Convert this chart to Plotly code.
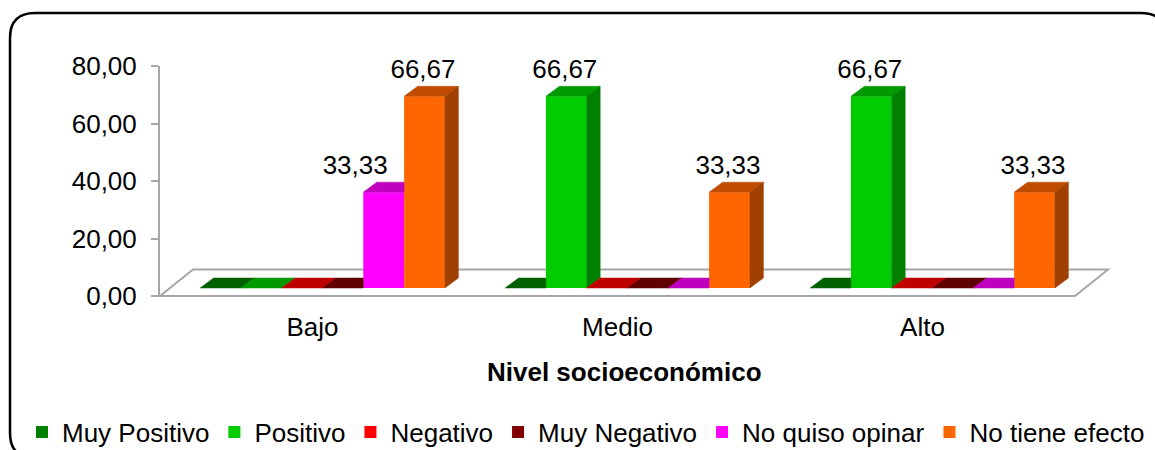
import plotly.graph_objects as go

# ---------------- data ----------------
categories = ["Bajo", "Medio", "Alto"]
series_names = ["Muy Positivo", "Positivo", "Negativo", "Muy Negativo",
                "No quiso opinar", "No tiene efecto"]
muy_positivo = [0.00, 0.00, 0.00]
positivo = [0.00, 66.67, 66.67]
negativo = [0.00, 0.00, 0.00]
muy_negativo = [0.00, 0.00, 0.00]
no_quiso_opinar = [33.33, 0.00, 0.00]
no_tiene_efecto = [66.67, 33.33, 33.33]
y_tick_values = [0, 20, 40, 60, 80]
x_axis_title = "Nivel socioeconómico"

series_values = [muy_positivo, positivo, negativo, muy_negativo,
                 no_quiso_opinar, no_tiene_efecto]

# ---------------- style ----------------
front_colors = ["#008000", "#00CC00", "#FF0000", "#800000", "#FF00FF", "#FF6600"]
FONT = "Liberation Sans, Arial, sans-serif"
FS = 26
GRAY = "#A6A6A6"


def shade(hexc, k):
    r, g, b = int(hexc[1:3], 16), int(hexc[3:5], 16), int(hexc[5:7], 16)
    return f"rgb({int(r * k)},{int(g * k)},{int(b * k)})"


W, H = 1155, 450
L, R, T, B = 160, 0, 66, 153
plot_w = W - L - R
plot_h = H - T - B
Y_MAX = 80
ppy = 230 / Y_MAX          # pixels per value unit
ppx = 305                  # pixels per category
x_range = [-0.5, -0.5 + plot_w / ppx]
y_range = [Y_MAX - plot_h / ppy, Y_MAX]

bar_w = 40.8 / ppx
grp_shift = 10 / ppx
b0 = 8 / ppy
ddx, ddy = 13.5 / ppx, 10 / ppy
fdx, fdy = 33 / ppx, 26.5 / ppy
label_lift = 2 / ppy
n_s = len(series_names)
label_nudge_px = {(0, 4): -27}


def xp(px):
    return (px - L) / plot_w


def yp(py):
    return (H - B - py) / plot_h


def clip(poly, inside, inter):
    out = []
    for k in range(len(poly)):
        cur, prev = poly[k], poly[k - 1]
        if inside(cur):
            if not inside(prev):
                out.append(inter(prev, cur))
            out.append(cur)
        elif inside(prev):
            out.append(inter(prev, cur))
    return out


fig = go.Figure()

# front faces (real bars)
for j, name in enumerate(series_names):
    off = -n_s / 2 * bar_w + j * bar_w + grp_shift
    fig.add_trace(go.Bar(
        x=list(range(len(categories))), y=series_values[j], base=b0,
        width=bar_w, offset=off, name=name,
        marker=dict(color=front_colors[j], line=dict(width=0)),
        hoverinfo="skip"))

# top and side faces
for j, name in enumerate(series_names):
    off = -n_s / 2 * bar_w + j * bar_w + grp_shift
    tx, ty, sx, sy = [], [], [], []
    for i in range(len(categories)):
        h = series_values[j][i]
        xl = i + off
        xr = xl + bar_w
        hn = series_values[j + 1][i] if j + 1 < n_s else None
        top = [(xl, b0 + h), (xr, b0 + h), (xr + ddx, b0 + h + ddy), (xl + ddx, b0 + h + ddy)]
        pieces = [top]
        if hn is not None and hn > h:
            yc = b0 + hn
            p1 = clip(top, lambda p: p[0] <= xr + 1e-12,
                      lambda a, b: (xr, a[1] + (b[1] - a[1]) * (xr - a[0]) / (b[0] - a[0])))
            p2 = clip(top, lambda p: p[1] >= yc - 1e-12,
                      lambda a, b: (a[0] + (b[0] - a[0]) * (yc - a[1]) / (b[1] - a[1]), yc))
            pieces = [p for p in (p1, p2) if len(p) >= 3]
        for p in pieces:
            tx += [q[0] for q in p] + [p[0][0], None]
            ty += [q[1] for q in p] + [p[0][1], None]
        hs = max(hn, 0) if hn is not None else 0
        if h > hs:
            side = [(xr, b0 + hs), (xr + ddx, b0 + hs + ddy), (xr + ddx, b0 + h + ddy), (xr, b0 + h)]
            sx += [q[0] for q in side] + [side[0][0], None]
            sy += [q[1] for q in side] + [side[0][1], None]
    tc = shade(front_colors[j], 0.75)
    fig.add_trace(go.Scatter(x=tx, y=ty, mode="lines", fill="toself", fillcolor=tc,
                             line=dict(color=tc, width=0.5), showlegend=False, hoverinfo="skip"))
    if sx:
        sc = shade(front_colors[j], 0.63)
        fig.add_trace(go.Scatter(x=sx, y=sy, mode="lines", fill="toself", fillcolor=sc,
                                 line=dict(color=sc, width=0.5), showlegend=False, hoverinfo="skip"))

# value labels
lx, ly, lt = [], [], []
for j in range(n_s):
    off = -n_s / 2 * bar_w + j * bar_w + grp_shift
    for i in range(len(categories)):
        v = series_values[j][i]
        if v <= 0:
            continue
        nudge = label_nudge_px.get((i, j), 0)
        lx.append(i + off + bar_w / 2 + (nudge - 1.5) / ppx)
        ly.append(b0 + v + ddy + label_lift)
        lt.append(f"{v:.2f}".replace(".", ","))
fig.add_trace(go.Scatter(x=lx, y=ly, text=lt, mode="text", textposition="top center",
                         textfont=dict(family=FONT, size=FS, color="black"),
                         cliponaxis=False, showlegend=False, hoverinfo="skip"))

# floor and frame
floor_path = (f"M {-0.5},{0} L {len(categories) - 0.5},{0} "
              f"L {len(categories) - 0.5 + fdx},{fdy} L {-0.5 + fdx},{fdy} Z")
r = 25
bx0, bx1, by0, by1 = 10, 1166, 13, 458
frame = (f"M {xp(bx0 + r)},{yp(by0)} L {xp(bx1 - r)},{yp(by0)} "
         f"Q {xp(bx1)},{yp(by0)} {xp(bx1)},{yp(by0 + r)} L {xp(bx1)},{yp(by1 - r)} "
         f"Q {xp(bx1)},{yp(by1)} {xp(bx1 - r)},{yp(by1)} L {xp(bx0 + r)},{yp(by1)} "
         f"Q {xp(bx0)},{yp(by1)} {xp(bx0)},{yp(by1 - r)} L {xp(bx0)},{yp(by0 + r)} "
         f"Q {xp(bx0)},{yp(by0)} {xp(bx0 + r)},{yp(by0)} Z")

fig.update_layout(
    width=W, height=H,
    margin=dict(l=L, r=R, t=T, b=B, pad=0, autoexpand=False),
    paper_bgcolor="white", plot_bgcolor="white",
    separators=",.",
    font=dict(family=FONT, size=FS, color="black"),
    barmode="overlay",
    showlegend=True,
    legend=dict(orientation="h", x=xp(22), xanchor="left", y=yp(432), yanchor="middle",
                font=dict(family=FONT, size=FS, color="black"), itemwidth=30,
                traceorder="normal", bgcolor="rgba(0,0,0,0)"),
    xaxis=dict(range=x_range, tickvals=list(range(len(categories))), ticktext=categories,
               showline=False, showgrid=False, zeroline=False, ticks="",
               tickfont=dict(family=FONT, size=FS, color="black"), ticklabelstandoff=12,
               fixedrange=True),
    yaxis=dict(range=y_range, tickvals=y_tick_values, tickformat=".2f",
               showline=True, linecolor=GRAY, linewidth=2, showgrid=False, zeroline=False,
               ticks="outside", ticklen=7, tickwidth=2, tickcolor=GRAY,
               tickfont=dict(family=FONT, size=FS, color="black"), ticklabelstandoff=9,
               fixedrange=True),
    shapes=[
        dict(type="path", xref="x", yref="y", path=floor_path, fillcolor="white",
             line=dict(color=GRAY, width=2), layer="below"),
        dict(type="path", xref="paper", yref="paper", path=frame, fillcolor="rgba(0,0,0,0)",
             line=dict(color="black", width=2.5), layer="below"),
    ],
    annotations=[
        dict(text=f"<b>{x_axis_title}</b>", xref="paper", yref="paper", x=xp(624.5), y=yp(372),
             xanchor="center", yanchor="middle", showarrow=False,
             font=dict(family=FONT, size=FS, color="black")),
    ],
)

fig.write_html("out.html")
